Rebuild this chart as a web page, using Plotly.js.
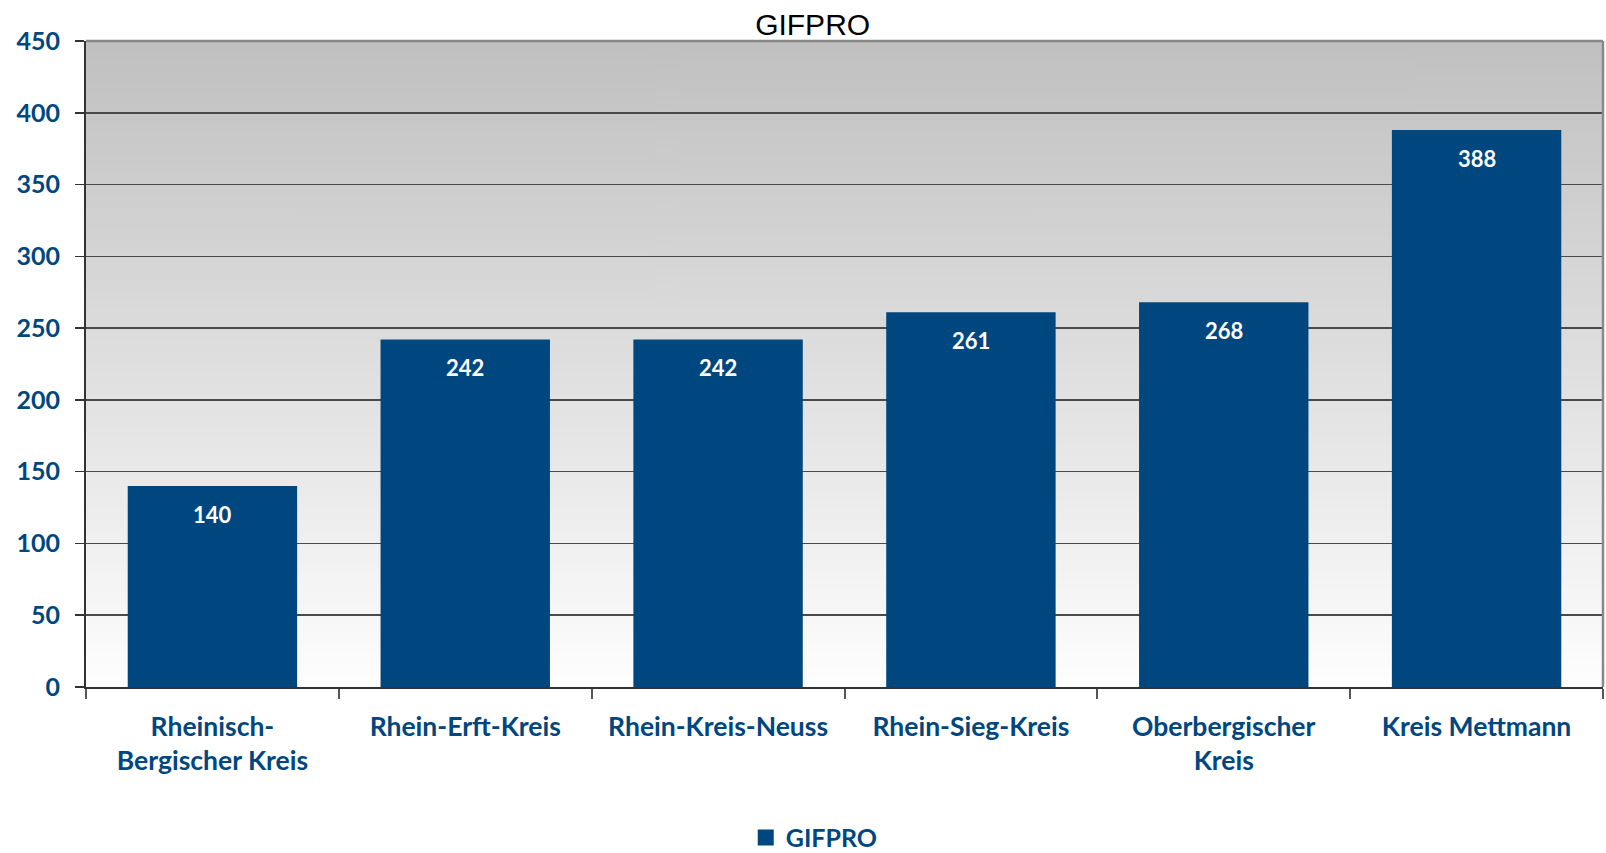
<!DOCTYPE html>
<html>
<head>
<meta charset="utf-8">
<script src="https://cdn.plot.ly/plotly-3.0.1.min.js"></script>
<style>
  html, body { margin: 0; padding: 0; background: #ffffff; }
  #chart { width: 1606px; height: 853px; }
</style>
</head>
<body>
<div id="chart"></div>
<script>
// District names (line breaks where the axis labels wrap)
const districts = [
  "Rheinisch-<br>Bergischer Kreis",
  "Rhein-Erft-Kreis",
  "Rhein-Kreis-Neuss",
  "Rhein-Sieg-Kreis",
  "Oberbergischer<br>Kreis",
  "Kreis Mettmann"
];
// GIFPRO values per district
const gifpro = [140, 242, 242, 261, 268, 388];
// Value axis ticks
const yTicks = [0, 50, 100, 150, 200, 250, 300, 350, 400, 450];

const BLUE = "#00467f";
const LABEL_FONT = "Lato, 'Open Sans', sans-serif";

// Vertical grey-to-white background for the plot area
function gradientImage() {
  const c = document.createElement("canvas");
  c.width = 4; c.height = 512;
  const ctx = c.getContext("2d");
  const g = ctx.createLinearGradient(0, 0, 0, 512);
  g.addColorStop(0, "rgb(192,192,192)");
  g.addColorStop(1, "rgb(254,254,254)");
  ctx.fillStyle = g;
  ctx.fillRect(0, 0, 4, 512);
  return c.toDataURL("image/png");
}

const bars = {
  type: "bar",
  name: "GIFPRO",
  x: districts,
  y: gifpro,
  marker: { color: BLUE, line: { width: 0 } },
  showlegend: false,
  hoverinfo: "x+y"
};

// Legend entry with a larger square swatch
const legendKey = {
  type: "scatter",
  mode: "markers",
  name: "GIFPRO",
  x: [null],
  y: [null],
  marker: { symbol: "square", size: 16, color: BLUE },
  showlegend: true,
  hoverinfo: "skip"
};

// Value labels inside the top of each bar
const valueLabels = districts.map((d, i) => ({
  x: d,
  y: gifpro[i],
  xref: "x",
  yref: "y",
  text: String(gifpro[i]),
  showarrow: false,
  yanchor: "middle",
  yshift: -28,
  font: { family: LABEL_FONT, size: 22, color: "#ffffff", weight: "bold" }
}));

const layout = {
  width: 1606,
  height: 853,
  margin: { l: 86, r: 3, t: 41, b: 166 },
  paper_bgcolor: "#ffffff",
  plot_bgcolor: "rgba(0,0,0,0)",
  bargap: 0.33,
  showlegend: true,
  title: {
    text: "GIFPRO",
    font: { family: "'Liberation Sans', Arial, sans-serif", size: 30, color: "#000000" },
    xref: "container",
    x: 0.506,
    xanchor: "center",
    yref: "container",
    y: 0.971,
    yanchor: "middle"
  },
  xaxis: {
    type: "category",
    tickson: "boundaries",
    ticks: "outside",
    ticklen: 10,
    tickwidth: 2,
    tickcolor: "#555555",
    showline: true,
    linecolor: "#333333",
    linewidth: 2,
    showgrid: false,
    tickfont: { family: LABEL_FONT, size: 26.5, color: BLUE, weight: "bold" },
    ticklabelstandoff: 15
  },
  yaxis: {
    range: [0, 450],
    tickvals: yTicks,
    ticktext: yTicks.map(String),
    ticks: "outside",
    ticklen: 9,
    tickwidth: 1.5,
    tickcolor: "#333333",
    showline: true,
    linecolor: "#333333",
    linewidth: 2,
    showgrid: true,
    gridcolor: "#4a4a4a",
    gridwidth: 1.5,
    zeroline: false,
    tickfont: { family: LABEL_FONT, size: 25, color: BLUE, weight: "bold" },
    ticklabelstandoff: 10
  },
  legend: {
    orientation: "h",
    xref: "container",
    yref: "container",
    x: 0.507,
    xanchor: "center",
    y: 0.018,
    yanchor: "middle",
    font: { family: LABEL_FONT, size: 25, color: BLUE, weight: "bold" },
    itemwidth: 30,
    bgcolor: "rgba(0,0,0,0)"
  },
  images: [{
    source: gradientImage(),
    xref: "paper", yref: "paper",
    x: 0, y: 1, sizex: 1, sizey: 1,
    xanchor: "left", yanchor: "top",
    sizing: "stretch",
    layer: "below"
  }],
  shapes: [
    { type: "line", xref: "paper", yref: "paper", x0: 0, x1: 1, y0: 1, y1: 1,
      line: { color: "#888888", width: 2.5 }, layer: "above" },
    { type: "line", xref: "paper", yref: "paper", x0: 1, x1: 1, y0: 0, y1: 1,
      line: { color: "#888888", width: 2.5 }, layer: "above" }
  ],
  annotations: valueLabels
};

Plotly.newPlot("chart", [bars, legendKey], layout, { displayModeBar: false, staticPlot: true });
</script>
</body>
</html>
